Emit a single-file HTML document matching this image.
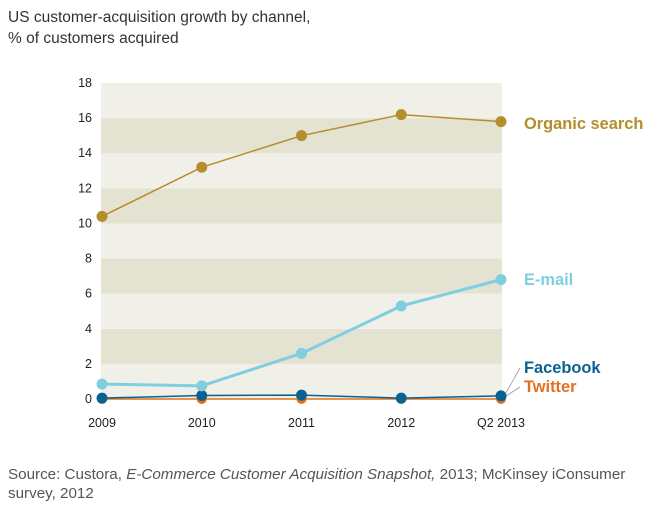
<!DOCTYPE html>
<html><head><meta charset="utf-8"><style>
body{margin:0;background:#fff;font-family:"Liberation Sans",sans-serif}
</style></head><body>
<svg width="659" height="514" xmlns="http://www.w3.org/2000/svg" font-family="Liberation Sans, sans-serif">
<text x="8" y="22" font-size="15.5" fill="#333">US customer-acquisition growth by channel,</text>
<text x="8" y="43" font-size="15.5" fill="#333">% of customers acquired</text>
<g id="bands"></g>
<g id="yaxis"></g>
<g id="xaxis"></g>
<g id="series"></g>
<text x="8" y="479" font-size="15.2" fill="#555">Source: Custora, <tspan font-style="italic">E-Commerce Customer Acquisition Snapshot,</tspan> 2013; McKinsey iConsumer</text>
<text x="8" y="498" font-size="15.2" fill="#555">survey, 2012</text>
</svg>
<script>
const categories=["2009","2010","2011","2012","Q2 2013"];
const yTicks=[0,2,4,6,8,10,12,14,16,18];
const organic=[10.4,13.2,15.0,16.2,15.8];
const email=[0.85,0.75,2.6,5.3,6.8];
const facebook=[0.05,0.2,0.22,0.05,0.18];
const twitter=[0,0,0,0,0];
const NS="http://www.w3.org/2000/svg";
const x0=102,x1=501,yb=399,yt=83,pl=101,pr=502;
const xS=i=>x0+(x1-x0)*i/(categories.length-1);
const yS=v=>yb-(yb-yt)*v/18;
function mk(t,a,p){const e=document.createElementNS(NS,t);for(const k in a)e.setAttribute(k,a[k]);p.appendChild(e);return e;}
const bands=document.getElementById('bands');
for(let i=0;i<yTicks.length-1;i++){
 const r=mk('rect',{x:pl,y:yS(yTicks[i+1]),width:pr-pl,height:yS(yTicks[i])-yS(yTicks[i+1]),fill:i%2?'#e4e2d1':'#f1f0e8'},bands);
 
 
}
const ya=document.getElementById('yaxis');
yTicks.forEach(v=>{const t=mk('text',{x:92,y:yS(v)+4,'font-size':12.5,fill:'#222','text-anchor':'end'},ya);t.textContent=v;
 
 });
const xa=document.getElementById('xaxis');
categories.forEach((c,i)=>{const t=mk('text',{x:xS(i),y:427,'font-size':12.5,fill:'#222','text-anchor':'middle'},xa);t.textContent=c;
 
 });
const sg=document.getElementById('series');
function series(vals,color,w,r,name,label,lx,ly,leader){
 const g=mk('g',{},sg);
 
 
 const ln=mk('polyline',{points:vals.map((v,i)=>xS(i)+','+yS(v)).join(' '),fill:'none',stroke:color,'stroke-width':w},g);
 
 
 vals.forEach((v,i)=>{const c=mk('circle',{cx:xS(i),cy:yS(v),r:r,fill:color},g);
  
  });
 if(leader){const l=mk('line',{x1:xS(vals.length-1)+5,y1:yS(vals[vals.length-1])-3,x2:lx-4,y2:ly-5,stroke:'#999','stroke-width':0.8},g);
  
  }
 const t=mk('text',{x:lx,y:ly,'font-size':16.4,'font-weight':'bold',fill:color},g);t.textContent=label;
 
 
}
series(twitter,'#e2711d',1.5,5,'twitter','Twitter',524,392,true);
series(facebook,'#0b6290',1.5,5.5,'facebook','Facebook',524,373,true);
series(email,'#7fcfe0',3,5.5,'email','E-mail',524,285,false);
series(organic,'#b48e2c',1.5,5.5,'organic','Organic search',524,129,false);
</script>
</body></html>
